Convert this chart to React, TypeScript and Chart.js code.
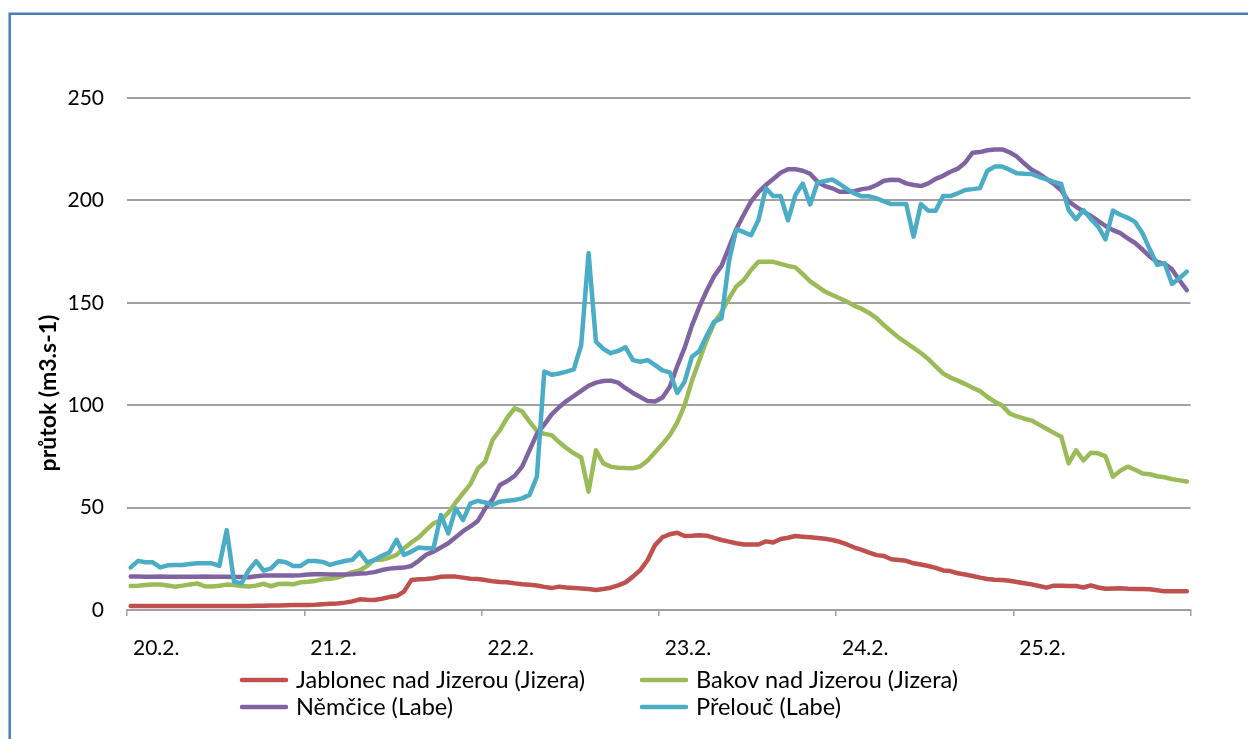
import { useEffect, useRef } from 'react';
import { Chart, registerables } from 'chart.js';

Chart.register(...registerables);

// ---- data ----
const dayLabels = ['20.2.', '21.2.', '22.2.', '23.2.', '24.2.', '25.2.', ''];
const yAxisTitle = 'průtok (m3.s-1)';
const seriesNames = [
  'Jablonec nad Jizerou (Jizera)',
  'Bakov nad Jizerou (Jizera)',
  'Němčice (Labe)',
  'Přelouč (Labe)',
];
const seriesColors = ['#C0504D', '#9BBB59', '#8064A2', '#4BACC6'];

// hourly values (144 hours, 20.2. 0:00 – 26.2. 0:00)
const jablonec = [
  2, 2, 2, 2, 2, 2, 2, 2, 2, 2,
  2, 2, 2, 2, 2, 2, 2, 2.1, 2.1, 2.2,
  2.2, 2.3, 2.4, 2.4, 2.5, 2.6, 2.8, 3, 3.2, 3.6,
  4.2, 5.2, 5, 4.9, 5.5, 6.3, 6.8, 9, 14.6, 15,
  15.1, 15.5, 16.2, 16.3, 16.3, 15.8, 15.3, 15.1, 14.6, 14,
  13.7, 13.5, 13, 12.6, 12.3, 12, 11.3, 10.7, 11.4, 11,
  10.8, 10.5, 10.2, 9.8, 10.3, 10.9, 12, 13.5, 16.3, 19.5,
  24.4, 31.7, 35.5, 37, 37.7, 36.1, 36.2, 36.5, 36.3, 35.2,
  34.2, 33.4, 32.6, 32, 32, 32, 33.5, 33, 34.7, 35.3,
  36.1, 35.8, 35.5, 35.2, 34.8, 34.2, 33.3, 32, 30.5, 29.4,
  28, 26.8, 26.4, 24.8, 24.4, 24, 22.8, 22.2, 21.5, 20.6,
  19.3, 19, 17.9, 17.3, 16.6, 15.8, 15.1, 14.8, 14.6, 14.3,
  13.7, 13.1, 12.5, 11.7, 10.9, 11.9, 11.8, 11.7, 11.7, 11,
  12, 11, 10.4, 10.5, 10.6, 10.4, 10.3, 10.2, 10.1, 9.6,
  9.1, 9.1, 9.1, 9.1,
];
const bakov = [
  11.7, 11.8, 12.2, 12.5, 12.5, 12, 11.4, 11.9, 12.5, 13,
  11.6, 11.5, 11.8, 12.4, 12.2, 11.7, 11.5, 11.9, 12.8, 11.6,
  12.7, 12.8, 12.6, 13.5, 13.8, 14.2, 15, 15.3, 15.8, 17,
  18.5, 19.3, 21.5, 24.7, 24.5, 25.5, 26.9, 30, 33, 35.5,
  39, 42.3, 43.8, 47.5, 52.5, 57, 61.5, 69, 72.5, 83,
  87.9, 94, 98.5, 97, 92, 87.5, 86, 85.4, 82, 79,
  76.5, 74.5, 57.8, 78, 71.6, 70, 69.5, 69.3, 69.2, 70.2,
  73, 77, 81, 85.4, 91.5, 100, 112, 122, 131.8, 140,
  145.5, 152, 158, 161, 166, 170, 170, 170, 169, 168,
  167.3, 164, 160.5, 158, 155.5, 153.8, 152.2, 150.5, 148.5, 147,
  145, 142.5, 139, 136, 133, 130.5, 128, 125.5, 122.5, 119,
  115.5, 113.5, 112, 110.3, 108.5, 106.9, 104, 101.7, 99.8, 96,
  94.5, 93.4, 92.5, 90.5, 88.5, 86.5, 84.6, 71.6, 78, 73,
  76.8, 76.5, 75, 65.1, 68, 70, 68.5, 66.7, 66.3, 65.3,
  64.8, 63.9, 63.3, 62.7,
];
const nemcice = [
  16.3, 16.3, 16.2, 16.2, 16.3, 16.2, 16.2, 16.2, 16.2, 16.2,
  16.3, 16.2, 16.2, 16.2, 16.1, 16.1, 16, 16.5, 16.8, 16.8,
  16.8, 16.8, 16.8, 17, 17.3, 17.5, 17.4, 17.3, 17.3, 17.3,
  17.5, 17.8, 18, 18.5, 19.5, 20.2, 20.5, 20.7, 21.5, 24,
  27, 28.5, 30.5, 32.6, 35.5, 38.5, 40.8, 43.5, 49.5, 54,
  61, 63, 65.5, 70, 78, 86, 90.5, 95.5, 99, 102,
  104.5, 107, 109.5, 111, 111.8, 112, 111, 108.3, 106, 104,
  102, 101.8, 103.8, 109, 119, 128, 139, 148, 156, 163,
  168, 177, 186, 193, 199.5, 204, 207.5, 210.5, 213.5, 215.2,
  215.2, 214.5, 213, 209.1, 207, 205.9, 204.2, 204.2, 204.5, 205.5,
  206, 207.5, 209.6, 210.1, 210, 208.3, 207.5, 207, 208.3, 210.5,
  212, 214, 215.5, 218.5, 223.3, 223.6, 224.5, 224.9, 224.9, 223.5,
  221.4, 218, 215, 213, 210.5, 208, 205, 199.5, 197, 194.5,
  192.5, 190, 187.5, 185.5, 184, 181.5, 179.2, 176, 172.5, 170,
  169, 166.3, 161, 156.2,
];
const prelouc = [
  20.8, 24, 23.3, 23.3, 20.8, 21.8, 22, 22, 22.5, 22.8,
  22.8, 22.8, 21.5, 39, 13.8, 13, 19.5, 23.9, 19.2, 20.3,
  23.9, 23.3, 21.5, 21.5, 23.9, 23.9, 23.5, 22, 23.1, 23.9,
  24.5, 28.2, 23.3, 24.4, 26.5, 28, 34.3, 26.9, 28.5, 30.5,
  30.1, 30.1, 46.4, 37.4, 49.6, 43.9, 52.1, 53.3, 52.5, 51.4,
  52.9, 53.3, 53.7, 54.5, 56.2, 65.1, 116.4, 114.9, 115.5, 116.4,
  117.5, 129.4, 174.2, 131, 127.5, 125.4, 126.5, 128.3, 122, 121.2,
  122, 119.6, 117, 116, 106, 111.5, 123.7, 126.5, 134, 140.8,
  142.4, 170, 186, 184.5, 183, 190.4, 205.9, 202.1, 202.1, 190.3,
  202.6, 208.2, 198, 208.7, 209.5, 210.2, 208, 205.5, 203.4, 202,
  202, 201, 199.5, 198.2, 198.2, 198.2, 182.3, 198.2, 195, 195,
  202.1, 202.1, 203.5, 205.1, 205.5, 206, 214.5, 216.5, 216.5, 215,
  213.2, 213, 212.9, 211.5, 210.3, 209, 208, 195.3, 190.8, 195.3,
  191, 187.2, 181, 195, 193, 191.5, 189.5, 184, 176, 168.5,
  169.3, 159.2, 162, 165.2,
];

const FONT = 'Lato, "Open Sans", sans-serif';

const framePlugin = {
  id: 'frame',
  beforeDraw(chart: any) {
    const ctx = chart.ctx;
    ctx.save();
    ctx.fillStyle = '#ffffff';
    ctx.fillRect(0, 0, chart.width, chart.height);
    ctx.strokeStyle = '#4A7EBB';
    ctx.lineWidth = 2.5;
    ctx.beginPath();
    ctx.moveTo(9.7, chart.height + 5);
    ctx.lineTo(9.7, 13.7);
    ctx.lineTo(chart.width + 5, 13.7);
    ctx.stroke();
    ctx.restore();
  },
};

const titleLegendPlugin = {
  id: 'titleLegend',
  afterDraw(chart: any) {
    const ctx = chart.ctx;
    ctx.save();
    // y axis title
    ctx.translate(49, 393);
    ctx.rotate(-Math.PI / 2);
    ctx.font = `bold 23px ${FONT}`;
    ctx.fillStyle = '#000';
    ctx.textAlign = 'center';
    ctx.textBaseline = 'middle';
    ctx.fillText(yAxisTitle, 0, 0);
    ctx.restore();

    // legend (two columns, two rows)
    const cols = [240, 640];
    const rows = [680, 707];
    ctx.save();
    ctx.font = `23.5px ${FONT}`;
    ctx.textAlign = 'left';
    ctx.textBaseline = 'middle';
    seriesNames.forEach((name, i) => {
      const x = cols[i % 2];
      const y = rows[Math.floor(i / 2)];
      ctx.strokeStyle = seriesColors[i];
      ctx.lineWidth = 4.5;
      ctx.lineCap = 'round';
      ctx.beginPath();
      ctx.moveTo(x + 2, y);
      ctx.lineTo(x + 46, y);
      ctx.stroke();
      ctx.fillStyle = '#000';
      ctx.fillText(name, x + 56, y);
    });
    ctx.restore();
  },
};

export default function App() {
  const ref = useRef<HTMLCanvasElement>(null);
  useEffect(() => {
    document.body.style.margin = '0';
    const series = [jablonec, bakov, nemcice, prelouc];
    const chart = new Chart(ref.current as HTMLCanvasElement, {
      type: 'line',
      data: {
        datasets: series.map((arr, i) => ({
          label: seriesNames[i],
          data: arr.map((v, k) => ({ x: k + 0.5, y: v })),
          borderColor: seriesColors[i],
          backgroundColor: seriesColors[i],
          borderWidth: 4.5,
          pointRadius: 0,
          tension: 0,
          fill: false,
          borderJoinStyle: 'round',
          borderCapStyle: 'round',
          order: 3 - i,
        })),
      },
      options: {
        responsive: false,
        animation: false,
        devicePixelRatio: 1,
        layout: { padding: { top: 98, right: 57.5, left: 0, bottom: 0 } },
        plugins: {
          legend: { display: false },
          tooltip: { enabled: false },
          title: { display: false },
        },
        scales: {
          x: {
            type: 'linear',
            min: 0,
            max: 144,
            afterFit: (scale: any) => {
              scale.height = 129;
            },
            grid: {
              drawOnChartArea: false,
              drawTicks: true,
              tickLength: 6,
              color: '#A0A0A0',
              lineWidth: 1.5,
            },
            border: { display: true, color: '#A0A0A0', width: 2 },
            ticks: {
              stepSize: 24,
              autoSkip: false,
              maxRotation: 0,
              align: 'start',
              labelOffset: 6,
              padding: 20,
              color: '#000',
              font: { family: FONT, size: 21 },
              callback: (v: any) => dayLabels[Math.round(Number(v) / 24)] ?? '',
            },
          },
          y: {
            min: 0,
            max: 250,
            afterFit: (scale: any) => {
              scale.width = 127;
            },
            grid: { color: '#A0A0A0', lineWidth: 2, drawTicks: false },
            border: { display: false },
            ticks: {
              stepSize: 50,
              padding: 23,
              color: '#000',
              font: { family: FONT, size: 21 },
            },
          },
        },
      },
      plugins: [framePlugin, titleLegendPlugin],
    } as any);
    return () => chart.destroy();
  }, []);
  return <canvas ref={ref} width={1248} height={739} style={{ display: 'block' }} />;
}
